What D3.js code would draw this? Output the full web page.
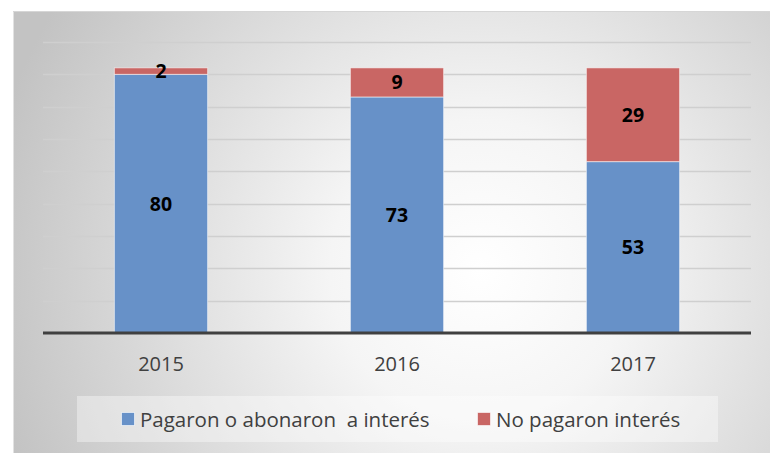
<!DOCTYPE html>
<html lang="es">
<head>
<meta charset="utf-8">
<title>Interés</title>
<script src="https://cdn.jsdelivr.net/npm/d3@7"></script>
<style>
  body { margin: 0; background: #fff; }
  text { font-family: "Open Sans", "Noto Sans", sans-serif; }
</style>
</head>
<body>
<div id="chart"></div>
<script>
var years = ["2015", "2016", "2017"];
var pagaron = [80, 73, 53];
var noPagaron = [2, 9, 29];
var seriesNames = ["Pagaron o abonaron  a interés", "No pagaron interés"];
var seriesColors = ["#6791c8", "#c96664"];
var yTicks = [0, 10, 20, 30, 40, 50, 60, 70, 80, 90];

var width = 770, height = 453;

var svg = d3.select("#chart").append("svg")
    .attr("width", width)
    .attr("height", height);

// radial background like the office chart
var defs = svg.append("defs");
var grad = defs.append("radialGradient")
    .attr("id", "bg")
    .attr("gradientUnits", "userSpaceOnUse")
    .attr("cx", 480).attr("cy", 270).attr("r", 500);
grad.append("stop").attr("offset", "0%").attr("stop-color", "#ffffff");
grad.append("stop").attr("offset", "30%").attr("stop-color", "#f5f5f5");
grad.append("stop").attr("offset", "100%").attr("stop-color", "#c3c3c3");

svg.append("rect")
    .attr("x", 13).attr("y", 11)
    .attr("width", width - 13).attr("height", height - 11)
    .attr("fill", "url(#bg)");
svg.append("line")
    .attr("x1", 13.5).attr("x2", 13.5).attr("y1", 11).attr("y2", height)
    .attr("stroke", "#e2e2e2");
svg.append("line")
    .attr("x1", 13).attr("x2", width).attr("y1", 11.5).attr("y2", 11.5)
    .attr("stroke", "#d6d6d6");

var x = d3.scaleBand()
    .domain(years)
    .range([43, 751])
    .paddingInner(0.605)
    .paddingOuter(0.3025);

var y = d3.scaleLinear()
    .domain([0, 90])
    .range([333, 42]);

// gridlines
svg.append("g")
  .selectAll("line")
  .data(yTicks.slice(1))
  .enter().append("line")
    .attr("x1", 43).attr("x2", 751)
    .attr("y1", function(d) { return Math.round(y(d)) + 0.5; })
    .attr("y2", function(d) { return Math.round(y(d)) + 0.5; })
    .attr("stroke", "#cfcfcf")
    .attr("stroke-width", 1.5);

var rows = years.map(function(yr, i) {
  return { year: yr, pagaron: pagaron[i], noPagaron: noPagaron[i] };
});
var stack = d3.stack().keys(["pagaron", "noPagaron"]);
var layers = stack(rows);

var layer = svg.append("g")
  .selectAll("g")
  .data(layers)
  .enter().append("g")
    .attr("fill", function(d, i) { return seriesColors[i]; });

layer.selectAll("rect")
  .data(function(d) { return d; })
  .enter().append("rect")
    .attr("x", function(d) { return x(d.data.year); })
    .attr("width", x.bandwidth())
    .attr("y", function(d) { return y(d[1]); })
    .attr("height", function(d) { return y(d[0]) - y(d[1]); })
    .attr("stroke", "rgba(255,255,255,0.55)")
    .attr("stroke-width", 1);

layer.selectAll("text")
  .data(function(d) { return d; })
  .enter().append("text")
    .attr("x", function(d) { return x(d.data.year) + x.bandwidth() / 2; })
    .attr("y", function(d) { return (y(d[0]) + y(d[1])) / 2; })
    .attr("dy", "0.36em")
    .attr("text-anchor", "middle")
    .attr("fill", "#000")
    .attr("font-weight", "bold")
    .attr("font-size", "19.5px")
    .text(function(d) { return d[1] - d[0]; });

// base axis
var xAxis = svg.append("g")
    .attr("transform", "translate(0," + y(0) + ")")
    .call(d3.axisBottom(x).tickSize(0).tickPadding(24));
xAxis.select(".domain")
    .attr("d", "M43,0H751")
    .attr("stroke", "#404040")
    .attr("stroke-width", 3);
xAxis.selectAll("text")
    .attr("font-size", "20px")
    .attr("fill", "#404040")
    .style("font-family", "'Open Sans', sans-serif");

// legend
var legend = svg.append("g");
legend.append("rect")
    .attr("x", 77).attr("y", 396)
    .attr("width", 641).attr("height", 46)
    .attr("fill", "rgba(255,255,255,0.38)");

var legendX = [121, 477];
var item = legend.selectAll("g.item")
  .data(seriesNames)
  .enter().append("g")
    .attr("class", "item")
    .attr("transform", function(d, i) { return "translate(" + legendX[i] + ",412)"; });
item.append("rect")
    .attr("x", 0.5).attr("y", 0.5)
    .attr("width", 13).attr("height", 13)
    .attr("fill", function(d, i) { return seriesColors[i]; })
    .attr("stroke", "rgba(255,255,255,0.6)");
item.append("text")
    .attr("x", 19).attr("y", 15)
    .attr("font-size", "20.5px")
    .attr("fill", "#404040")
    .style("white-space", "pre")
    .text(function(d) { return d; });
</script>
</body>
</html>
